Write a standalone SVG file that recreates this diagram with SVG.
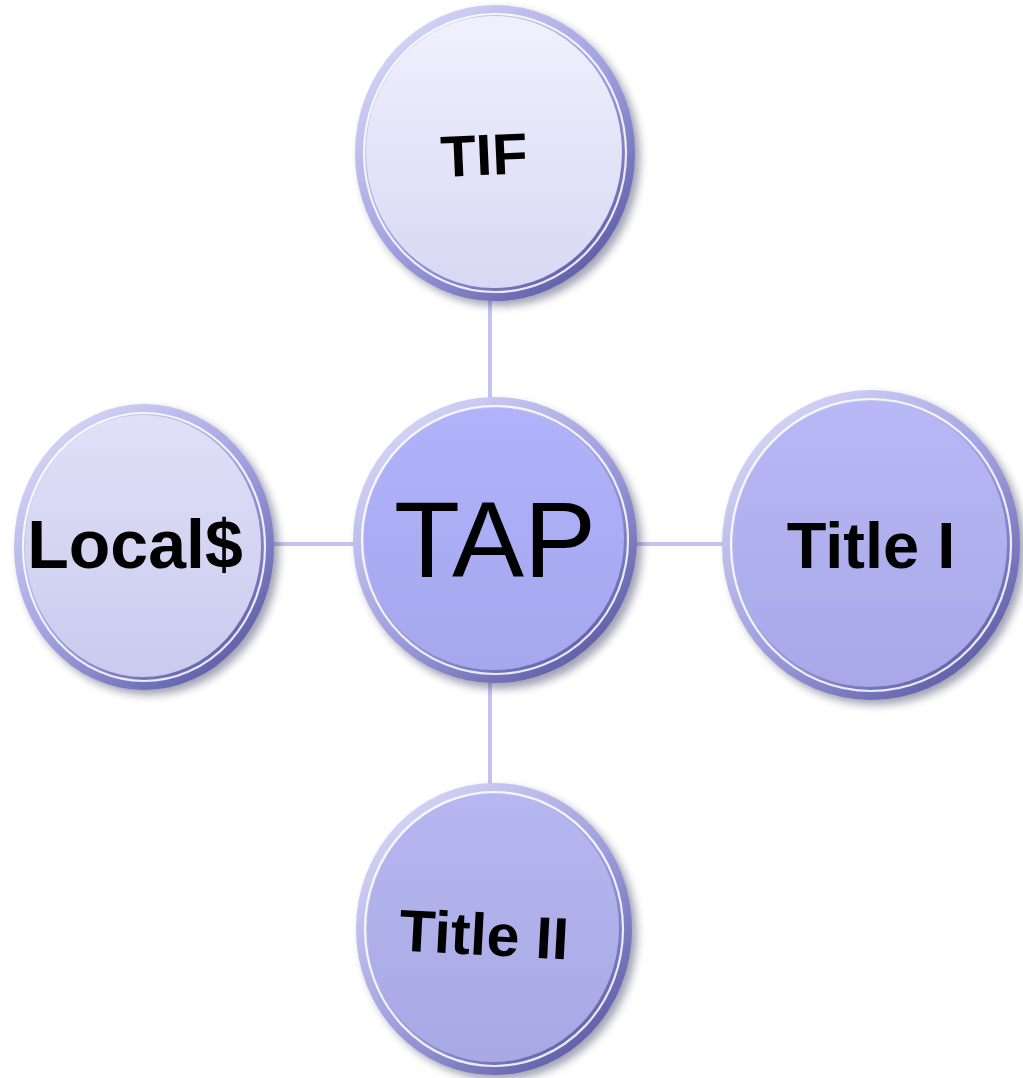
<svg xmlns="http://www.w3.org/2000/svg" width="1023" height="1078" viewBox="0 0 1023 1078">
  <defs>
    <style>
      .link { stroke: #c4c4f2; stroke-width: 4; fill: none; }
      .shadow { fill: #30305a; opacity: 0.45; filter: url(#soft); }
      .ring { fill: url(#ringGrad); }
      .gloss { fill: none; stroke: #ffffff; stroke-width: 2.2; opacity: 0.85; }
      .lbl { font-family: "Liberation Sans", Arial, sans-serif; fill: #000000; text-anchor: middle; }
      .bold { font-weight: bold; }
    </style>
    <filter id="soft" x="-20%" y="-20%" width="140%" height="140%">
      <feGaussianBlur stdDeviation="4"/>
    </filter>
    <linearGradient id="ringGrad" x1="0.15" y1="0.1" x2="0.85" y2="0.95">
      <stop offset="0" stop-color="#d4d4f6"/>
      <stop offset="0.5" stop-color="#a0a0e0"/>
      <stop offset="1" stop-color="#5a5aa4"/>
    </linearGradient>
    <linearGradient id="faceTif" x1="0" y1="0" x2="0" y2="1">
      <stop offset="0" stop-color="#f0f0fd"/>
      <stop offset="1" stop-color="#d8d8f4"/>
    </linearGradient>
    <linearGradient id="faceTap" x1="0" y1="0" x2="0" y2="1">
      <stop offset="0" stop-color="#b0b2fa"/>
      <stop offset="1" stop-color="#a6a8ee"/>
    </linearGradient>
    <linearGradient id="faceLocal" x1="0" y1="0" x2="0" y2="1">
      <stop offset="0" stop-color="#e0e0f8"/>
      <stop offset="1" stop-color="#cacaee"/>
    </linearGradient>
    <linearGradient id="faceT1" x1="0" y1="0" x2="0" y2="1">
      <stop offset="0" stop-color="#b8b8f6"/>
      <stop offset="1" stop-color="#a8a8e8"/>
    </linearGradient>
    <linearGradient id="faceT2" x1="0" y1="0" x2="0" y2="1">
      <stop offset="0" stop-color="#b6b6f0"/>
      <stop offset="1" stop-color="#a8a8e4"/>
    </linearGradient>
  </defs>

  <rect width="1023" height="1078" fill="#ffffff"/>

  <!-- spokes joining the hub to each outer disc -->
  <g id="connectors">
    <line class="link" x1="490" y1="300" x2="490" y2="400"/>
    <line class="link" x1="490" y1="680" x2="490" y2="788"/>
    <line class="link" x1="270" y1="544" x2="354" y2="544"/>
    <line class="link" x1="634" y1="544" x2="726" y2="544"/>
  </g>

  <g id="node-tif">
    <ellipse class="shadow" cx="500" cy="158" rx="140" ry="148"/>
    <ellipse class="ring" cx="495" cy="153" rx="140" ry="148"/>
    <ellipse class="gloss" cx="495" cy="153" rx="131" ry="139"/>
    <ellipse cx="494" cy="152" rx="128" ry="136" fill="url(#faceTif)"/>
    <text class="lbl bold" x="484" y="175" font-size="58" transform="rotate(-2.5 484 155)">TIF</text>
  </g>

  <g id="node-tap">
    <ellipse class="shadow" cx="500" cy="546" rx="142" ry="143"/>
    <ellipse class="ring" cx="495" cy="540" rx="142" ry="143"/>
    <ellipse class="gloss" cx="495" cy="540" rx="133" ry="134"/>
    <ellipse cx="494" cy="539" rx="130" ry="131" fill="url(#faceTap)"/>
    <text class="lbl" x="495" y="577" font-size="108">TAP</text>
  </g>

  <g id="node-local">
    <ellipse class="shadow" cx="149" cy="552" rx="130" ry="143"/>
    <ellipse class="ring" cx="144" cy="547" rx="130" ry="143"/>
    <ellipse class="gloss" cx="144" cy="547" rx="121" ry="134"/>
    <ellipse cx="143" cy="546" rx="118" ry="131" fill="url(#faceLocal)"/>
    <text class="lbl bold" x="135" y="568" font-size="68">Local$</text>
  </g>

  <g id="node-title1">
    <ellipse class="shadow" cx="876" cy="550" rx="149" ry="155"/>
    <ellipse class="ring" cx="871" cy="545" rx="149" ry="155"/>
    <ellipse class="gloss" cx="871" cy="545" rx="140" ry="146"/>
    <ellipse cx="870" cy="544" rx="137" ry="143" fill="url(#faceT1)"/>
    <text class="lbl bold" x="871" y="568" font-size="65">Title I</text>
  </g>

  <g id="node-title2">
    <ellipse class="shadow" cx="499" cy="934" rx="138" ry="146"/>
    <ellipse class="ring" cx="494" cy="929" rx="138" ry="146"/>
    <ellipse class="gloss" cx="494" cy="929" rx="129" ry="137"/>
    <ellipse cx="493" cy="928" rx="126" ry="134" fill="url(#faceT2)"/>
    <text class="lbl bold" x="484" y="955" font-size="59" transform="rotate(3 484 935)">Title II</text>
  </g>
</svg>
